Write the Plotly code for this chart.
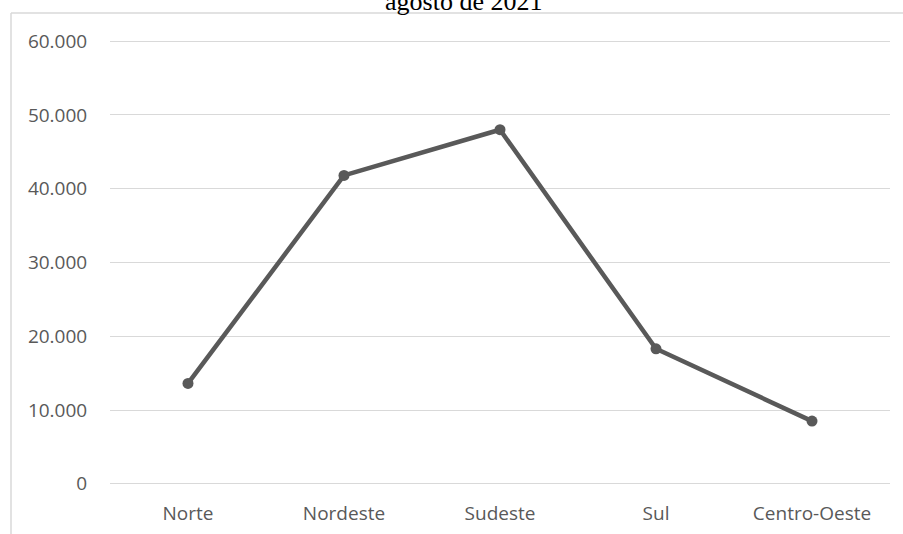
import plotly.graph_objects as go

categories = ["Norte", "Nordeste", "Sudeste", "Sul", "Centro-Oeste"]
values = [13600, 41800, 48000, 18300, 8500]
tick_vals = [0, 10000, 20000, 30000, 40000, 50000, 60000]
tick_text = ["0", "10.000", "20.000", "30.000", "40.000", "50.000", "60.000"]

W, H = 903, 534
L, R, T, B = 110, 13, 39, 48
pw, ph = W - L - R, H - T - B

def px(x):
    return (x - L) / pw

def py(y):
    return 1 - (y - T) / ph

fig = go.Figure()
fig.add_trace(go.Scatter(
    x=categories, y=values, mode="lines+markers",
    line=dict(color="#595959", width=4.5),
    marker=dict(color="#595959", size=11),
    hoverinfo="skip", showlegend=False,
))

fig.update_layout(
    width=W, height=H,
    margin=dict(l=L, r=R, t=T, b=B, autoexpand=False),
    paper_bgcolor="white", plot_bgcolor="white",
    font=dict(family="Open Sans, Noto Sans, sans-serif", size=13, color="#595959"),
    xaxis=dict(
        type="category", range=[-0.5, 4.5], showgrid=False, zeroline=False,
        showline=False, ticks="outside", ticklen=10, tickcolor="rgba(0,0,0,0)",
        tickfont=dict(size=19, color="#595959"), automargin=False,
    ),
    yaxis=dict(
        range=[-300, 60300], tickvals=tick_vals, ticktext=tick_text,
        showgrid=True, gridcolor="#d9d9d9", gridwidth=1.3, zeroline=False,
        showline=False, ticks="outside", ticklen=18, tickcolor="rgba(0,0,0,0)",
        tickfont=dict(size=19, color="#595959"), automargin=False,
    ),
    shapes=[
        dict(type="line", xref="paper", yref="paper",
             x0=px(11), x1=px(11), y0=py(H + 5), y1=py(13),
             line=dict(color="#d9d9d9", width=1.5)),
        dict(type="line", xref="paper", yref="paper",
             x0=px(11), x1=px(W + 5), y0=py(13), y1=py(13),
             line=dict(color="#d9d9d9", width=1.5)),
    ],
    annotations=[
        dict(text="agosto de 2021", xref="paper", yref="paper",
             x=px(463), y=py(18), xanchor="center", yanchor="bottom",
             showarrow=False,
             font=dict(family="Liberation Serif, Times New Roman, serif", size=26, color="black")),
    ],
)

fig.write_html("out.html")
